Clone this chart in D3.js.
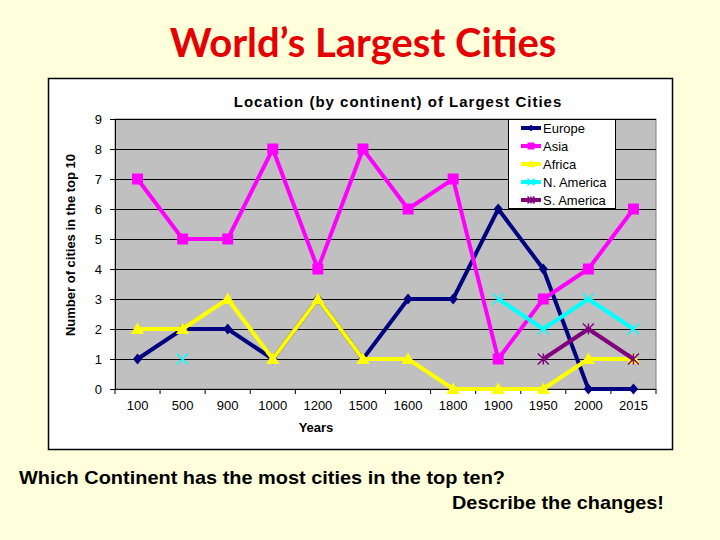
<!DOCTYPE html>
<html><head><meta charset="utf-8">
<script src="https://cdn.jsdelivr.net/npm/d3@7"></script>
<style>body{margin:0;background:#FFFFDB;}svg{display:block;}</style>
</head><body>
<svg id="c" width="720" height="540"></svg>
<script>
const years = ["100","500","900","1000","1200","1500","1600","1800","1900","1950","2000","2015"];
const europe = [1,2,2,1,3,1,3,3,6,4,0,0];
const asia = [7,5,5,8,4,8,6,7,1,3,4,6];
const africa = [2,2,3,1,3,1,1,0,0,0,1,1];
const nAmerica = [null,1,null,null,null,null,null,null,3,2,3,2];
const sAmerica = [null,null,null,null,null,null,null,null,null,1,2,1];
const yTicks = [0,1,2,3,4,5,6,7,8,9];
const seriesNames = ["Europe","Asia","Africa","N. America","S. America"];
const seriesValues = [europe, asia, africa, nAmerica, sAmerica];
const seriesColors = ["#000080","#FF00FF","#FFFF00","#00FFFF","#800080"];
const seriesMarkers = ["diamond","square","triangle","x","star"];

const svg = d3.select("#c");
const font = "'Liberation Sans', Arial, sans-serif";

svg.append("rect").attr("width",720).attr("height",540).attr("fill","#FFFFDB");
svg.append("text").attr("x",363).attr("y",57).attr("text-anchor","middle")
  .attr("font-family","Lato, 'Open Sans', sans-serif").attr("font-weight","bold")
  .attr("font-size",40).attr("fill","#E60000").text("World’s Largest Cities");

// chart frame
svg.append("rect").attr("x",48.5).attr("y",78.5).attr("width",624).attr("height",371)
  .attr("fill","#fff").attr("stroke","#000").attr("stroke-width",1.5);

const m = {l:115, t:119, r:656, b:389};
const x = d3.scaleBand().domain(years).range([m.l, m.r]);
const y = d3.scaleLinear().domain([0,9]).range([m.b, m.t]);

svg.append("rect").attr("x",m.l).attr("y",m.t).attr("width",m.r-m.l).attr("height",m.b-m.t)
  .attr("fill","#C0C0C0").attr("stroke","#808080").attr("stroke-width",1);

// gridlines
svg.append("g").selectAll("line").data(yTicks.filter(d=>d>0)).join("line")
  .attr("x1",m.l).attr("x2",m.r).attr("y1",d=>Math.round(y(d))+0.5).attr("y2",d=>Math.round(y(d))+0.5)
  .attr("stroke","#000").attr("stroke-width",1);

// y axis
const ya = svg.append("g").attr("transform",`translate(${m.l},0)`)
  .call(d3.axisLeft(y).tickValues(yTicks).tickSize(5).tickPadding(8).tickFormat(d3.format("d")));
ya.select(".domain").attr("stroke","#000");
ya.selectAll("text").attr("font-family",font).attr("font-size",13).attr("fill","#000");

// x axis with ticks at band boundaries
const xa = svg.append("g").attr("transform",`translate(0,${m.b})`)
  .call(d3.axisBottom(x).tickSize(0).tickPadding(12));
xa.select(".domain").attr("stroke","#000").attr("d",`M${m.l},0.5H${m.r}`);
xa.selectAll("text").attr("font-family",font).attr("font-size",13).attr("fill","#000");
const bounds = years.map(d=>x(d)).concat([m.r]);
xa.selectAll("line.b").data(bounds).join("line").attr("class","b")
  .attr("x1",d=>d).attr("x2",d=>d).attr("y1",0).attr("y2",5).attr("stroke","#000");

svg.append("text").attr("x",316).attr("y",432).attr("text-anchor","middle")
  .attr("font-family",font).attr("font-weight","bold").attr("font-size",13).text("Years");
svg.append("text").attr("transform","translate(75,245) rotate(-90)").attr("text-anchor","middle")
  .attr("font-family",font).attr("font-weight","bold").attr("font-size",13).text("Number of cities in the top 10");
svg.append("text").attr("x",398).attr("y",107).attr("text-anchor","middle")
  .attr("font-family",font).attr("font-weight","bold").attr("font-size",15).attr("letter-spacing",1)
  .text("Location (by continent) of Largest Cities");

const cx = d => x(d) + x.bandwidth()/2;

function marker(g, type, color, s) {
  if (type==="diamond") g.append("path").attr("d",`M0,${-s*0.5}L${s*0.42},0L0,${s*0.5}L${-s*0.42},0Z`).attr("fill",color);
  else if (type==="square") g.append("rect").attr("x",-s/2).attr("y",-s/2).attr("width",s).attr("height",s).attr("fill",color);
  else if (type==="triangle") g.append("path").attr("d",`M0,${-s*0.6}L${s*0.6},${s*0.45}L${-s*0.6},${s*0.45}Z`).attr("fill",color);
  else if (type==="x") g.append("path").attr("d",`M${-s/2},${-s/2}L${s/2},${s/2}M${s/2},${-s/2}L${-s/2},${s/2}`).attr("stroke",color).attr("stroke-width",1.5);
  else if (type==="star") g.append("path").attr("d",`M${-s/2},${-s/2}L${s/2},${s/2}M${s/2},${-s/2}L${-s/2},${s/2}M0,${-s/2}L0,${s/2}`).attr("stroke",color).attr("stroke-width",1.5);
}

const line = d3.line().defined(d=>d.v!==null).x(d=>cx(d.k)).y(d=>y(d.v));
seriesValues.forEach((vals,i)=>{
  const pts = years.map((k,j)=>({k, v: vals[j]}));
  svg.append("path").datum(pts).attr("d",line).attr("fill","none")
    .attr("stroke",seriesColors[i]).attr("stroke-width",4).attr("stroke-linejoin","miter");
  pts.filter(p=>p.v!==null).forEach(p=>{
    const g = svg.append("g").attr("transform",`translate(${cx(p.k)},${y(p.v)})`);
    marker(g, seriesMarkers[i], seriesColors[i], 11);
  });
});

// legend
const lg = svg.append("g");
lg.append("rect").attr("x",508.5).attr("y",119.5).attr("width",107).attr("height",89)
  .attr("fill","#fff").attr("stroke","#000").attr("stroke-width",1);
seriesNames.forEach((n,i)=>{
  const yy = 128 + i*18;
  lg.append("line").attr("x1",521).attr("x2",541).attr("y1",yy).attr("y2",yy)
    .attr("stroke",seriesColors[i]).attr("stroke-width",4);
  const g = lg.append("g").attr("transform",`translate(531,${yy})`);
  marker(g, seriesMarkers[i], seriesColors[i], 7);
  lg.append("text").attr("x",543).attr("y",yy+4.5).attr("font-family",font).attr("font-size",13).text(n);
});

svg.append("text").attr("x",19).attr("y",484).attr("font-family",font).attr("font-weight","bold")
  .attr("font-size",19).attr("textLength",486).attr("lengthAdjust","spacingAndGlyphs")
  .text("Which Continent has the most cities in the top ten?");
svg.append("text").attr("x",452).attr("y",509).attr("font-family",font).attr("font-weight","bold")
  .attr("font-size",19).attr("textLength",212).attr("lengthAdjust","spacingAndGlyphs")
  .text("Describe the changes!");
</script>
</body></html>
